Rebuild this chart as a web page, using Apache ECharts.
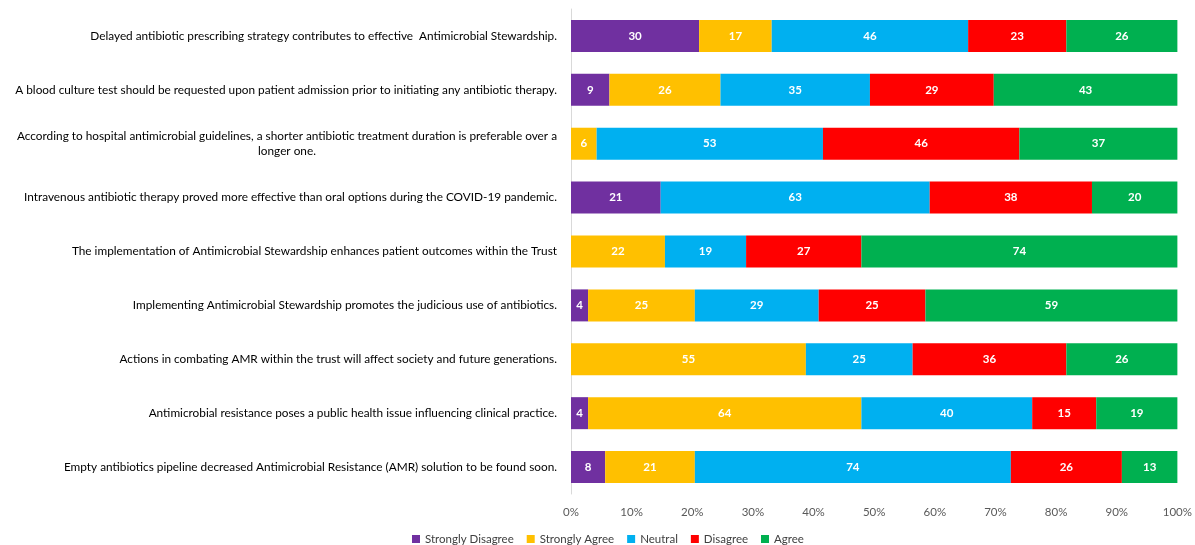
<!DOCTYPE html>
<html>
<head>
<meta charset="utf-8">
<script src="https://cdn.jsdelivr.net/npm/echarts@6/dist/echarts.min.js"></script>
<style>
  html, body { margin: 0; padding: 0; background: #ffffff; overflow: hidden; }
  #chart { width: 1195px; height: 545px; }
</style>
</head>
<body>
<div id="chart"></div>
<script>
// Survey statements, top to bottom
const statements = [
  "Delayed antibiotic prescribing strategy contributes to effective  Antimicrobial Stewardship.",
  "A blood culture test should be requested upon patient admission prior to initiating any antibiotic therapy.",
  "According to hospital antimicrobial guidelines, a shorter antibiotic treatment duration is preferable over a\nlonger one.",
  "Intravenous antibiotic therapy proved more effective than oral options during the COVID-19 pandemic.",
  "The implementation of Antimicrobial Stewardship enhances patient outcomes within the Trust",
  "Implementing Antimicrobial Stewardship promotes the judicious use of antibiotics.",
  "Actions in combating AMR within the trust will affect society and future generations.",
  "Antimicrobial resistance poses a public health issue influencing clinical practice.",
  "Empty antibiotics pipeline decreased Antimicrobial Resistance (AMR) solution to be found soon."
];

// Response counts per statement
const stronglyDisagree = [30, 9, 0, 21, 0, 4, 0, 4, 8];
const stronglyAgree    = [17, 26, 6, 0, 22, 25, 55, 64, 21];
const neutral          = [46, 35, 53, 63, 19, 29, 25, 40, 74];
const disagree         = [23, 29, 46, 38, 27, 25, 36, 15, 26];
const agree            = [26, 43, 37, 20, 74, 59, 26, 19, 13];

const xTickLabels = ["0%", "10%", "20%", "30%", "40%", "50%", "60%", "70%", "80%", "90%", "100%"];

const seriesDefs = [
  { name: "Strongly Disagree", values: stronglyDisagree, color: "#7030A0" },
  { name: "Strongly Agree",    values: stronglyAgree,    color: "#FFC000" },
  { name: "Neutral",           values: neutral,          color: "#00B0F0" },
  { name: "Disagree",          values: disagree,         color: "#FF0000" },
  { name: "Agree",             values: agree,            color: "#00B050" }
];

// Row totals for the 100% stacking
const totals = statements.map((_, i) =>
  seriesDefs.reduce((s, d) => s + d.values[i], 0));

const FONT = "Lato, 'Open Sans', sans-serif";

const chart = echarts.init(document.getElementById("chart"), null, { renderer: "canvas" });

chart.setOption({
  animation: false,
  backgroundColor: "#ffffff",
  textStyle: { fontFamily: FONT },
  grid: { left: 571, right: 13, top: 9, height: 485, containLabel: false },
  legend: {
    bottom: 0,
    padding: 0,
    left: 412,
    itemWidth: 8,
    itemHeight: 8,
    itemGap: 13,
    icon: "rect",
    textStyle: { fontFamily: FONT, fontSize: 11.5, color: "#404040" },
    data: seriesDefs.map(d => d.name)
  },
  xAxis: {
    type: "value",
    min: 0,
    max: 100,
    interval: 10,
    splitLine: { show: false },
    axisLine: { show: false },
    axisTick: { show: false },
    axisLabel: {
      fontFamily: FONT,
      fontSize: 11.5,
      color: "#595959",
      margin: 12,
      formatter: v => xTickLabels[Math.round(v / 10)]
    }
  },
  yAxis: {
    type: "category",
    inverse: true,
    data: statements,
    axisLine: { show: true, lineStyle: { color: "#d9d9d9", width: 1 } },
    axisTick: { show: false },
    axisLabel: {
      fontFamily: FONT,
      fontSize: 11.8,
      color: "#000000",
      margin: 14,
      lineHeight: 15,
      formatter: function (v) {
        const lines = v.split("\n");
        return lines.map((l, k) => k === 0 ? l : "{c|" + l + "}").join("\n");
      },
      rich: {
        c: { align: "center", fontFamily: FONT, fontSize: 11.8, color: "#000000", lineHeight: 15 }
      }
    }
  },
  series: seriesDefs.map(d => ({
    name: d.name,
    type: "bar",
    stack: "total",
    barWidth: 32,
    itemStyle: { color: d.color },
    label: {
      show: true,
      position: "inside",
      color: "#ffffff",
      fontFamily: FONT,
      fontSize: 11.5,
      fontWeight: "bold",
      formatter: p => d.values[p.dataIndex] > 0 ? String(d.values[p.dataIndex]) : ""
    },
    data: d.values.map((v, i) => v / totals[i] * 100)
  }))
});
</script>
</body>
</html>
